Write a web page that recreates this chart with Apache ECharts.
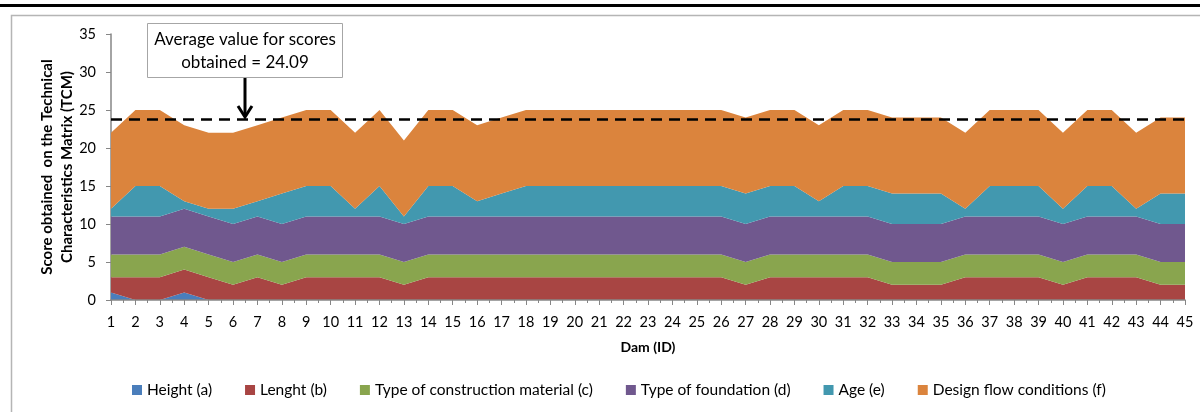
<!DOCTYPE html>
<html>
<head>
<meta charset="utf-8">
<script src="https://cdn.jsdelivr.net/npm/echarts@6/dist/echarts.min.js"></script>
<style>
  html, body { margin: 0; padding: 0; background: #fff; }
  #main { width: 1200px; height: 412px; }
</style>
</head>
<body>
<div id="main"></div>
<script>
// Dam IDs 1..45
const dams = ['1', '2', '3', '4', '5', '6', '7', '8', '9', '10', '11', '12', '13', '14', '15',
  '16', '17', '18', '19', '20', '21', '22', '23', '24', '25', '26', '27', '28', '29', '30',
  '31', '32', '33', '34', '35', '36', '37', '38', '39', '40', '41', '42', '43', '44', '45'];

const height = [1, 0, 0, 1, 0, 0, 0, 0, 0, 0, 0, 0, 0, 0, 0, 0, 0, 0, 0, 0, 0, 0, 0, 0, 0,
  0, 0, 0, 0, 0, 0, 0, 0, 0, 0, 0, 0, 0, 0, 0, 0, 0, 0, 0, 0];
const lenght = [2, 3, 3, 3, 3, 2, 3, 2, 3, 3, 3, 3, 2, 3, 3, 3, 3, 3, 3, 3, 3, 3, 3, 3, 3,
  3, 2, 3, 3, 3, 3, 3, 2, 2, 2, 3, 3, 3, 3, 2, 3, 3, 3, 2, 2];
const material = [3, 3, 3, 3, 3, 3, 3, 3, 3, 3, 3, 3, 3, 3, 3, 3, 3, 3, 3, 3, 3, 3, 3, 3, 3,
  3, 3, 3, 3, 3, 3, 3, 3, 3, 3, 3, 3, 3, 3, 3, 3, 3, 3, 3, 3];
const foundation = [5, 5, 5, 5, 5, 5, 5, 5, 5, 5, 5, 5, 5, 5, 5, 5, 5, 5, 5, 5, 5, 5, 5, 5, 5,
  5, 5, 5, 5, 5, 5, 5, 5, 5, 5, 5, 5, 5, 5, 5, 5, 5, 5, 5, 5];
const age = [1, 4, 4, 1, 1, 2, 2, 4, 4, 4, 1, 4, 1, 4, 4, 2, 3, 4, 4, 4, 4, 4, 4, 4, 4,
  4, 4, 4, 4, 2, 4, 4, 4, 4, 4, 1, 4, 4, 4, 2, 4, 4, 1, 4, 4];
const flow = [10, 10, 10, 10, 10, 10, 10, 10, 10, 10, 10, 10, 10, 10, 10, 10, 10, 10, 10, 10, 10, 10, 10, 10, 10,
  10, 10, 10, 10, 10, 10, 10, 10, 10, 10, 10, 10, 10, 10, 10, 10, 10, 10, 10, 10];

const avgLine = 23.8;
const yTicks = [0, 5, 10, 15, 20, 25, 30, 35];

const font = 'Lato, "Open Sans", sans-serif';

const layers = [
  { name: 'Height (a)', data: height, color: '#4a7ebb' },
  { name: 'Lenght (b)', data: lenght, color: '#a84543' },
  { name: 'Type of construction material (c)', data: material, color: '#89a54e' },
  { name: 'Type of foundation (d)', data: foundation, color: '#70588e' },
  { name: 'Age (e)', data: age, color: '#4298af' },
  { name: 'Design flow conditions (f)', data: flow, color: '#db843d' },
];

const series = layers.map(l => ({
  name: l.name,
  type: 'line',
  stack: 'tcm',
  data: l.data,
  symbol: 'none',
  color: l.color,
  lineStyle: { width: 0 },
  areaStyle: { color: l.color, opacity: 1 },
  emphasis: { disabled: true },
}));

// dashed average line
series[5].markLine = {
  silent: true,
  symbol: 'none',
  label: { show: false },
  lineStyle: { color: '#000', type: [11, 7], width: 2.5 },
  data: [{ yAxis: avgLine }],
};

const chart = echarts.init(document.getElementById('main'));
chart.setOption({
  animation: false,
  textStyle: { fontFamily: font },
  grid: { left: 111, right: 15, top: 34, bottom: 112 },
  legend: {
    bottom: 9,
    left: 127,
    icon: 'rect',
    itemWidth: 10,
    itemHeight: 10,
    itemGap: 33,
    textStyle: { fontSize: 15.5, color: '#000', fontFamily: font },
    data: layers.map(l => l.name),
  },
  xAxis: [
    {
      type: 'category',
      data: dams,
      boundaryGap: false,
      name: 'Dam (ID)',
      nameLocation: 'middle',
      nameGap: 40,
      nameMoveOverlap: false,
      nameTextStyle: { fontWeight: 'bold', fontSize: 14, color: '#000' },
      axisLine: { lineStyle: { color: '#868686', width: 1.5 } },
      axisTick: { length: 5, lineStyle: { color: '#868686' } },
      axisLabel: { fontSize: 14.5, color: '#000', margin: 15, interval: 0 },
      splitLine: { show: false },
      z: 10,
    },
    {
      // minor tick marks between the dams
      type: 'value',
      min: 1,
      max: 45,
      interval: 0.5,
      position: 'bottom',
      axisLine: { show: false },
      axisTick: { length: 3, lineStyle: { color: '#868686' } },
      axisLabel: { show: false },
      splitLine: { show: false },
    },
  ],
  yAxis: {
    type: 'value',
    min: yTicks[0],
    max: yTicks[yTicks.length - 1],
    interval: 5,
    name: 'Score obtained  on the Technical\nCharacteristics Matrix (TCM)',
    nameLocation: 'middle',
    nameGap: 34,
    nameMoveOverlap: false,
    nameTextStyle: { fontWeight: 'bold', fontSize: 15, color: '#000', lineHeight: 20 },
    axisLine: { show: true, lineStyle: { color: '#868686', width: 1.5 } },
    axisTick: { show: true, length: 5, lineStyle: { color: '#868686' } },
    axisLabel: { fontSize: 14.5, color: '#000', margin: 15 },
    splitLine: { show: false },
  },
  graphic: [
    { type: 'rect', shape: { x: 0, y: 4, width: 1200, height: 3 }, style: { fill: '#000' }, silent: true },
    { type: 'rect', shape: { x: 11.5, y: 15.5, width: 1200, height: 420 }, style: { fill: 'none', stroke: '#b5b5b5', lineWidth: 1.5 }, silent: true, z: -1 },
    {
      type: 'group',
      z: 100,
      children: [
        { type: 'rect', shape: { x: 147.5, y: 23.5, width: 195, height: 54 }, style: { fill: '#fff', stroke: '#a6a6a6', lineWidth: 1 } },
        {
          type: 'text',
          x: 245,
          y: 51,
          style: {
            text: 'Average value for scores\nobtained = 24.09',
            fontSize: 17,
            lineHeight: 23,
            fontFamily: font,
            fill: '#000',
            align: 'center',
            verticalAlign: 'middle',
          },
        },
        { type: 'line', shape: { x1: 245, y1: 78, x2: 245, y2: 116 }, style: { stroke: '#000', lineWidth: 3 } },
        { type: 'polyline', shape: { points: [[238, 106], [245, 117], [252, 106]] }, style: { stroke: '#000', lineWidth: 3, fill: 'none' } },
      ],
    },
  ],
  series,
});
</script>
</body>
</html>
